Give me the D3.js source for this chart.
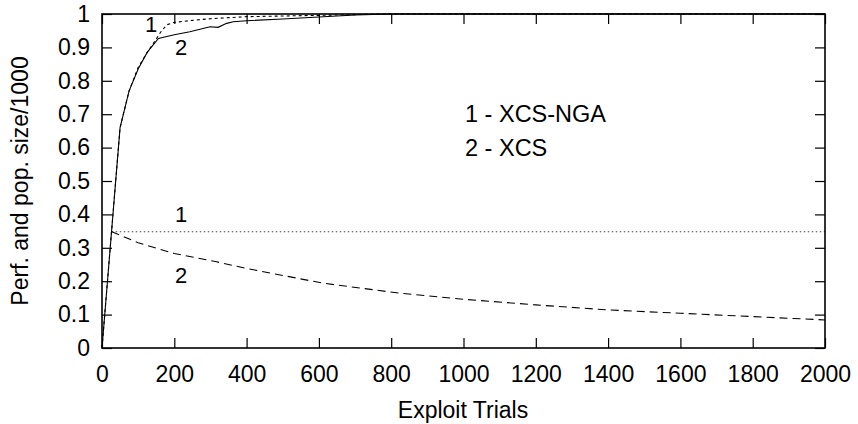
<!DOCTYPE html>
<html>
<head>
<meta charset="utf-8">
<script src="https://cdn.jsdelivr.net/npm/d3@7"></script>
<style>
  body { margin: 0; background: #fff; }
  svg { display: block; font-family: "Liberation Sans", Arial, Helvetica, sans-serif; }
  .tick text { font-size: 23px; fill: #000; }
  .label { font-size: 23px; fill: #000; }
</style>
</head>
<body>
<svg width="858" height="424"></svg>
<script>
// **** data ****
var ngaPerfTrials = [0, 50, 75, 100, 125, 150, 165, 180, 200, 250, 300, 350, 400, 500, 600, 700, 760, 2000];
var ngaPerf       = [0, 0.66, 0.77, 0.84, 0.885, 0.925, 0.95, 0.968, 0.975, 0.981, 0.986, 0.989, 0.992, 0.994, 0.996, 0.998, 1, 1];

var xcsPerfTrials = [0, 50, 75, 100, 125, 156, 200, 243, 299, 321, 345, 363, 400, 500, 600, 700, 800, 2000];
var xcsPerf       = [0, 0.66, 0.77, 0.835, 0.885, 0.927, 0.938, 0.947, 0.962, 0.96, 0.972, 0.977, 0.98, 0.985, 0.991, 0.997, 1, 1];

var ngaPopTrials = [27, 2000];
var ngaPop       = [0.348, 0.348];

var xcsPopTrials = [27, 100, 200, 317, 400, 612, 824, 1000, 1200, 1400, 1600, 1800, 2000];
var xcsPop       = [0.348, 0.315, 0.283, 0.258, 0.238, 0.194, 0.164, 0.146, 0.129, 0.114, 0.104, 0.094, 0.084];

var xTicks = [0, 200, 400, 600, 800, 1000, 1200, 1400, 1600, 1800, 2000];
var yTicks = [0, 0.1, 0.2, 0.3, 0.4, 0.5, 0.6, 0.7, 0.8, 0.9, 1];

var legendLines = ['1 - XCS-NGA', '2 - XCS'];

// **** scales ****
var xScale = d3.scaleLinear().domain([0, 2000]).range([102, 825]);
var yScale = d3.scaleLinear().domain([0, 1]).range([348, 14]);

var svg = d3.select('svg');

function zip(xs, ys) {
    return xs.map(function(x, i) { return [x, ys[i]]; });
}

var line = d3.line()
    .x(function(d) { return xScale(d[0]); })
    .y(function(d) { return yScale(d[1]); });

// **** axes, ticks pointing inward on all sides ****
var yFmt = function(d) { return String(+d.toFixed(1)); };

svg.append('g').attr('class', 'x axis')
    .attr('transform', 'translate(0,348)')
    .call(d3.axisBottom(xScale).tickValues(xTicks).tickSize(-10).tickPadding(18).tickFormat(d3.format('d')));

svg.append('g').attr('class', 'x axis top')
    .attr('transform', 'translate(0,14)')
    .call(d3.axisTop(xScale).tickValues(xTicks).tickSize(-10).tickFormat(''));

svg.append('g').attr('class', 'y axis')
    .attr('transform', 'translate(102,0)')
    .call(d3.axisLeft(yScale).tickValues(yTicks).tickSize(-10).tickPadding(12).tickFormat(yFmt));

svg.append('g').attr('class', 'y axis right')
    .attr('transform', 'translate(825,0)')
    .call(d3.axisRight(yScale).tickValues(yTicks).tickSize(-10).tickFormat(''));

svg.selectAll('.axis .domain').remove();
svg.selectAll('.axis line').attr('stroke', '#000').attr('stroke-width', 1.2);

// **** curves ****
svg.append('path').datum(zip(ngaPopTrials, ngaPop))
    .attr('d', line).attr('fill', 'none')
    .attr('stroke', '#444').attr('stroke-width', 1.2).attr('stroke-dasharray', '1.5,2.5');

svg.append('path').datum(zip(xcsPopTrials, xcsPop))
    .attr('d', line).attr('fill', 'none')
    .attr('stroke', '#000').attr('stroke-width', 1.1).attr('stroke-dasharray', '8,5');

svg.append('path').datum(zip(ngaPerfTrials, ngaPerf))
    .attr('d', line).attr('fill', 'none')
    .attr('stroke', '#000').attr('stroke-width', 1.1).attr('stroke-dasharray', '3,3');

svg.append('path').datum(zip(xcsPerfTrials, xcsPerf))
    .attr('d', line).attr('fill', 'none')
    .attr('stroke', '#000').attr('stroke-width', 1.1);

// **** frame ****
svg.append('rect')
    .attr('x', 102).attr('y', 14)
    .attr('width', 825 - 102).attr('height', 348 - 14)
    .attr('fill', 'none').attr('stroke', '#000').attr('stroke-width', 1.6);

// **** curve numbers ****
var curveTags = [['1', 151, 31.5], ['2', 181, 55], ['1', 181, 221.5], ['2', 181, 282.5]];
svg.selectAll('.tag').data(curveTags).enter().append('text')
    .attr('class', 'label tag')
    .attr('text-anchor', 'middle')
    .attr('x', function(d) { return d[1]; })
    .attr('y', function(d) { return d[2]; })
    .style('font-size', '22px')
    .text(function(d) { return d[0]; });

// **** legend ****
svg.selectAll('.legend').data(legendLines).enter().append('text')
    .attr('class', 'label legend')
    .attr('x', 465)
    .attr('y', function(d, i) { return 122 + i * 34; })
    .style('font-size', '23.5px')
    .text(function(d) { return d; });

// **** titles ****
svg.append('text')
    .attr('class', 'label')
    .attr('text-anchor', 'middle')
    .attr('transform', 'translate(463,418)')
    .text('Exploit Trials');

svg.append('text')
    .attr('class', 'label')
    .attr('text-anchor', 'middle')
    .attr('transform', 'translate(28,181) rotate(-90)')
    .text('Perf. and pop. size/1000');
</script>
</body>
</html>
